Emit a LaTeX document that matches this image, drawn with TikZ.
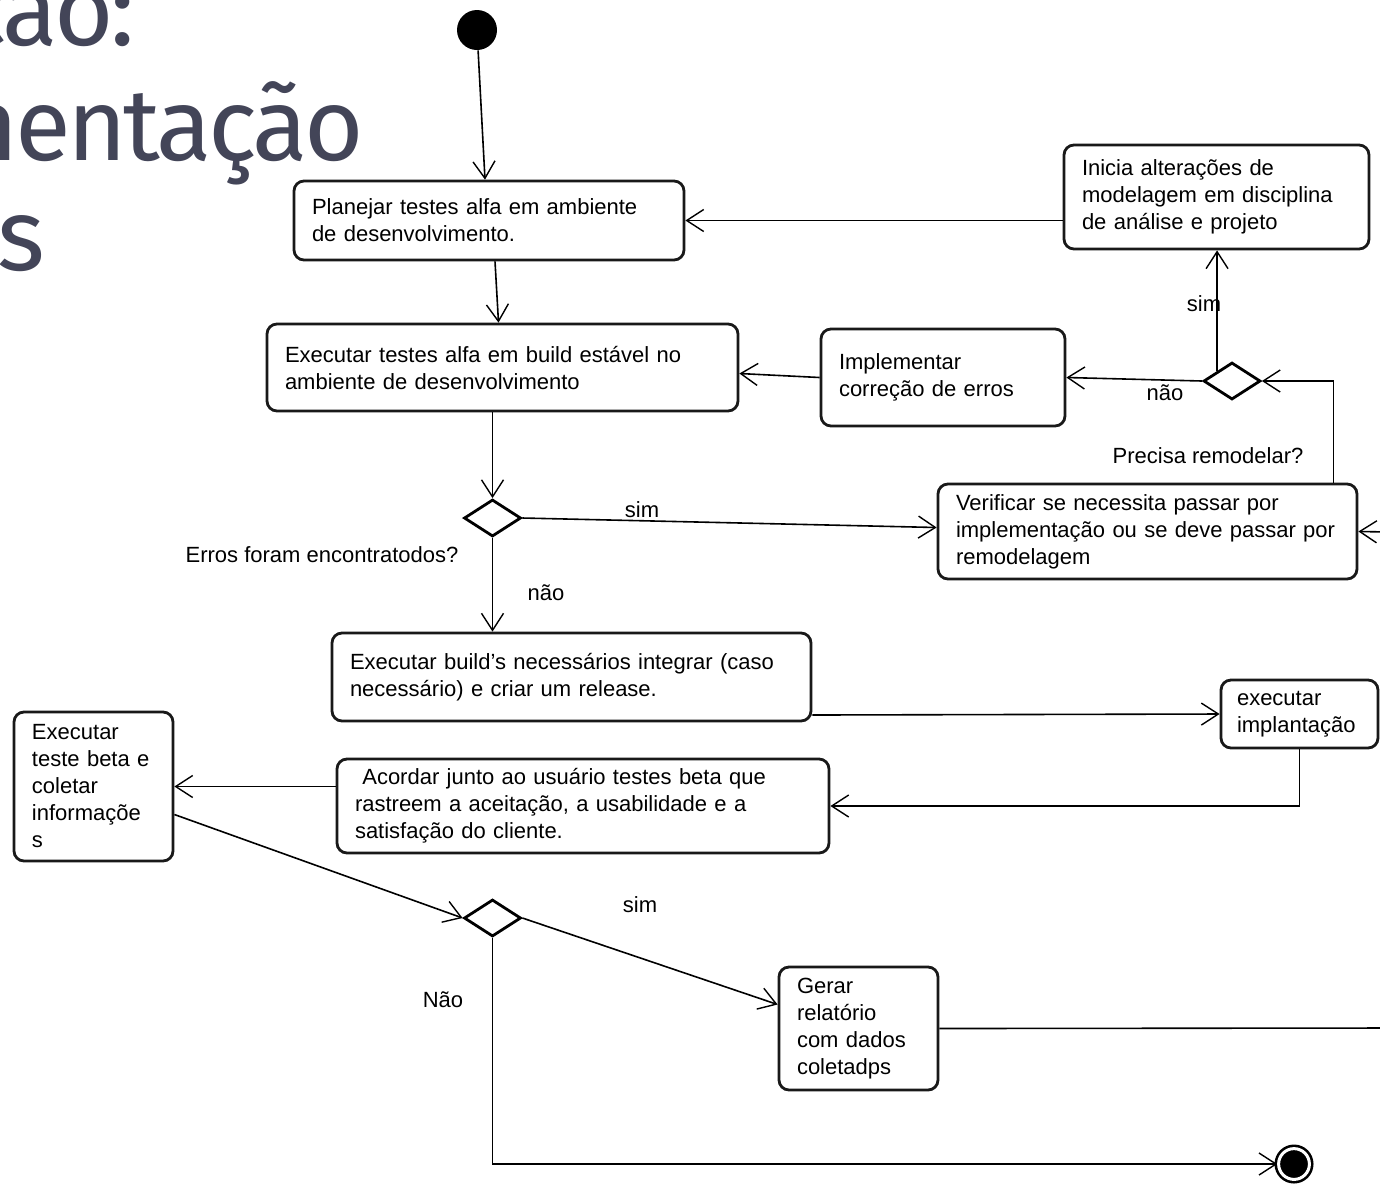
\documentclass[tikz,border=0pt]{standalone}
\usepackage{fontspec}
\setmainfont{Liberation Sans}
\newfontfamily\titlefont[LetterSpace=-3.5]{Fira Sans}
\usetikzlibrary{arrows.meta,shapes.geometric,calc}
\definecolor{titlegray}{RGB}{67,69,88}
\newcommand{\actfont}{\fontsize{11}{13.5}\selectfont}
\begin{document}
\begin{tikzpicture}[x=0.5pt,y=-0.5pt,
  act/.style={draw=black!90, line width=1.4pt, rounded corners=5pt, fill=white,
    align=left, inner xsep=9pt, inner ysep=2pt, font=\actfont},
  decision/.style={draw=black, line width=1.4pt, diamond, fill=white,
    minimum width=28.5pt, minimum height=18.5pt, inner sep=0pt},
  flow/.style={draw=black, line width=0.8pt},
  arr/.style={flow, -{Straight Barb[length=8.5pt,width=11pt,line width=0.7pt]}},
  lbl/.style={font=\actfont, inner sep=0pt},
  headline/.style={font=\titlefont\fontsize{51}{51}\selectfont, text=titlegray,
    anchor=base east, inner sep=0pt}]
\useasboundingbox (0,0) rectangle (1380,1185);
\fill[white] (0,0) rectangle (1380,1185);

% heading, running past the left edge of the page
\node[headline] (h1) at (135,45) {ação:};
\node[headline] (h2) at (364,160) {mentação};
\node[headline] (h3) at (45,270) {es};

% start and end
\node[circle, fill=black, minimum size=20pt, inner sep=0pt] (start) at (477,30) {};
\node[circle, fill=black, draw=black, double=white, double distance=1.5pt,
  line width=1.3pt, minimum size=15.4pt, inner sep=0pt] (fin) at (1294,1164) {};

% activities
\node[act, text width=177pt, minimum height=39.5pt] (A) at (489,220.5)
  {Planejar testes alfa em ambiente\\de desenvolvimento.};
\node[act, text width=134.5pt, minimum height=52pt] (B) at (1216.5,197)
  {Inicia alterações de\\modelagem em disciplina\\de análise e projeto};
\node[act, text width=217.5pt, minimum height=43.5pt] (C) at (502.5,367.5)
  {Executar testes alfa em build estável no\\ambiente de desenvolvimento};
\node[act, text width=104pt, minimum height=48.5pt] (D) at (943,377.5)
  {Implementar\\correção de erros};
\node[act, text width=191.5pt, minimum height=47.5pt] (E) at (1147.5,531.5)
  {Verificar se necessita passar por\\implementação ou se deve passar por\\remodelagem};
\node[act, text width=221.5pt, minimum height=44pt] (F) at (571.5,677)
  {Executar build's necessários integrar (caso\\necessário) e criar um release.};
\node[act, inner xsep=8pt, text width=62.5pt, minimum height=34pt] (G) at (1299.5,714)
  {executar\\implantação};
\node[act, text width=228pt, minimum height=47pt] (H) at (583,806)
  {\ Acordar junto ao usuário testes beta que\\rastreem a aceitação, a usabilidade e a\\satisfação do cliente.};
\node[act, text width=61.5pt, minimum height=74.5pt] (I) at (93.5,786.5)
  {Executar\\teste beta e\\coletar\\informaçõe\\s};
\node[act, text width=61.5pt, minimum height=61.5pt] (J) at (858.5,1028.5)
  {Gerar\\relatório\\com dados\\coletadps};

% decisions
\node[decision] (d1) at (1232,381) {};
\node[decision] (d2) at (492.5,518) {};
\node[decision] (d3) at (492.5,918) {};

% loose ends at the page border
\coordinate (inE) at (1390,532);
\coordinate (outJ) at (1390,1028);

% flows
\draw[arr] (start) -- ($(A.north)+(-4,0)$);
\draw[arr] (B.west |- A.east) -- (A.east);
\draw[arr] ($(A.south)+(6,0)$) -- ($(C.north)+(-4,0)$);
\draw[arr] (D.west) -- ($(C.east)+(0,6)$);
\draw[arr] (d1.north west) -- (d1.north west |- B.south);
\draw[arr] (d1.west) -- (D.east);
\draw[arr] ([xshift=-12.5pt]E.north east) |- (d1.east);
\draw[arr] (inE) -- (E.east);
\draw[arr] (d2.north |- C.south) -- (d2.north);
\draw[arr] (d2.east) -- ($(E.west)+(0,-4)$);
\draw[arr] (d2.south) -- (d2.south |- F.north);
\draw[arr] ([yshift=-19pt]F.east) -- (G.west);
\draw[arr] (G.south) |- (H.east);
\draw[arr] (H.west |- I.east) -- (I.east);
\draw[arr] ([yshift=-14pt]I.east) -- (d3.west);
\draw[arr] (d3.east) -- ([yshift=12pt]J.west);
\draw[flow] (J.east) -- (outJ);
\draw[arr] (d3.south) |- (fin.west);

% guard labels
\node[lbl] (l1) at (1204,304) {sim};
\node[lbl] (l2) at (1165,393) {não};
\node[lbl] (l3) at (1208,456) {Precisa remodelar?};
\node[lbl] (l4) at (642,510) {sim};
\node[lbl] (l5) at (322,555) {Erros foram encontratodos?};
\node[lbl] (l6) at (546,593) {não};
\node[lbl] (l7) at (640,905) {sim};
\node[lbl] (l8) at (443,1000) {Não};
\end{tikzpicture}
\end{document}
